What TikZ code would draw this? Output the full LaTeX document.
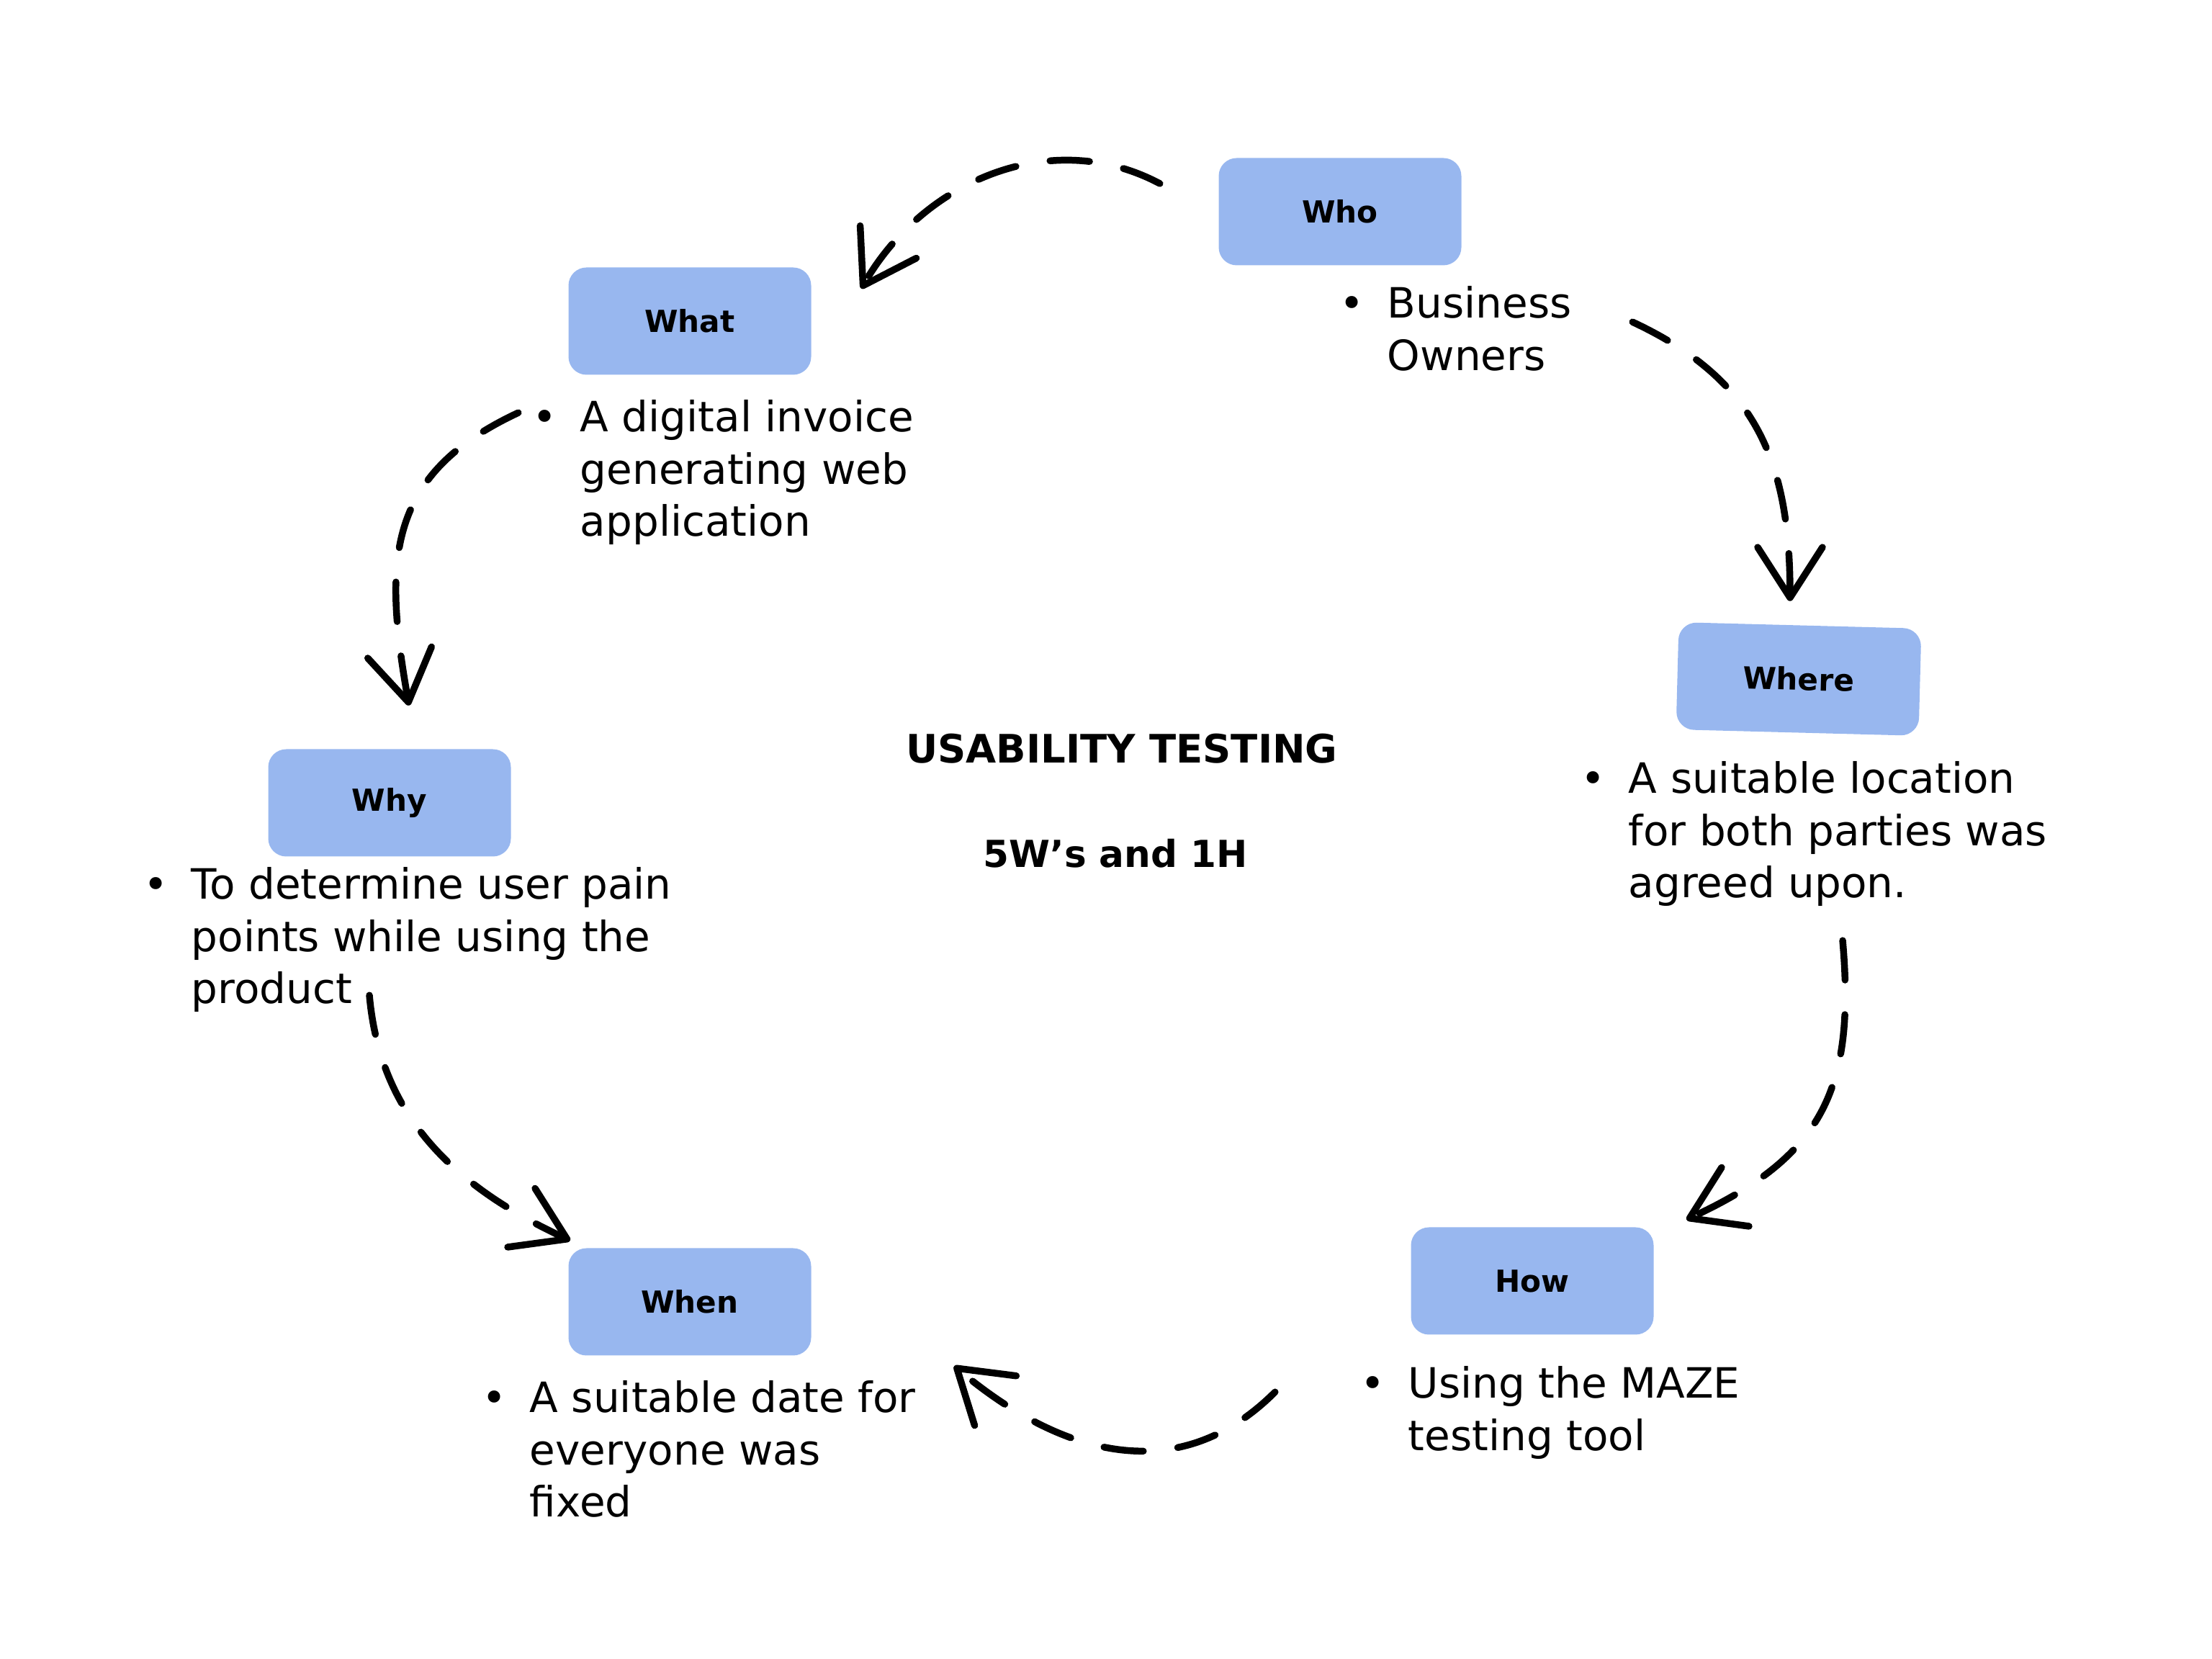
\documentclass[tikz,border=0pt]{standalone}
\usepackage{fontspec}
\setmainfont{DejaVu Sans}
\usepackage{xcolor}
\usepackage{tikz}
\usetikzlibrary{arrows.meta, positioning}

\definecolor{boxblue}{HTML}{98B7EF}
\newcommand{\pointlist}[1]{\textbullet\hspace{0.32cm}\begin{tabular}[t]{@{}l@{}}#1\end{tabular}}

\begin{document}
\begin{tikzpicture}[
    wbox/.style={fill=boxblue, rounded corners=0.25cm, minimum width=3.37cm,
      minimum height=1.49cm, inner sep=0pt, font=\fontsize{12}{14}\selectfont\bfseries},
    note/.style={anchor=base west, inner sep=0pt, font=\fontsize{16.5}{20.6}\selectfont},
    headline/.style={inner sep=0pt, font=\fontsize{15.5}{18}\selectfont\bfseries},
    flow/.style={line width=2.7pt, line cap=round, dash pattern=on 0.55cm off 0.48cm,
      -{Straight Barb[length=0.7cm, width=0.9cm, round]}}
  ]
  \useasboundingbox (0,0) rectangle (30.72,23.04);

  % Title in the middle
  \node[headline] (title) at (15.58, 12.64) {USABILITY TESTING};
  \node[headline, font=\fontsize{14.7}{17}\selectfont\bfseries] (subtitle) at (15.49, 11.19) {5W’s and 1H};

  % Who
  \node[wbox] (who) at (18.61, 20.10) {Who};
  \node[note] (whonote) at (18.60, 18.62) {\pointlist{Business\\Owners}};

  % What
  \node[wbox] (what) at (9.58, 18.58) {What};
  \node[note] (whatnote) at (7.39, 17.04) {\pointlist{A digital invoice\\generating web\\application}};

  % Why
  \node[wbox] (why) at (5.41, 11.89) {Why};
  \node[note] (whynote) at (1.99, 10.55) {\pointlist{To determine user pain\\points while using the\\product}};

  % When
  \node[wbox] (when) at (9.58, 4.96) {When};
  \node[note] (whennote) at (6.69, 3.42) {\pointlist{A suitable date for\\everyone was\\fixed}};

  % How
  \node[wbox] (how) at (21.28, 5.25) {How};
  \node[note] (hownote) at (18.89, 3.62) {\pointlist{Using the MAZE\\testing tool}};

  % Where
  \node[wbox, rotate=-1.5] (where) at (24.98, 13.61) {Where};
  \node[note] (wherenote) at (21.95, 12.02) {\pointlist{A suitable location\\for both parties was\\agreed upon.}};

  % Dashed hand-drawn arrows round the circle
  \draw[flow] ([shift={(-0.81,0.39)}]who.west) to[out=152, in=60]
    ([shift={(0.69,-0.30)}]what.north east);
  \draw[flow] ([shift={(-0.69,-0.52)}]what.south west) to[out=205, in=100, looseness=1.2]
    ([shift={(0.27,0.60)}]why.north);
  \draw[flow] ([shift={(-0.28,-1.92)}]why.south) to[out=-85, in=155]
    ([shift={(0.03,0.10)}]when.north west);
  \draw[flow] ([shift={(-1.88,-0.79)}]how.south west) to[out=225, in=-40, looseness=1.1]
    ([shift={(1.98,-0.14)}]when.south east);
  \draw[flow] ([shift={(0.63,-2.88)}]where.south) to[out=-85, in=25, looseness=1.2]
    ([shift={(0.45,0.10)}]how.north east);
  \draw[flow] ([shift={(2.37,-0.78)}]who.south east) to[out=-25, in=90, looseness=1.1]
    ([shift={(-0.14,0.33)}]where.north);
\end{tikzpicture}
\end{document}
